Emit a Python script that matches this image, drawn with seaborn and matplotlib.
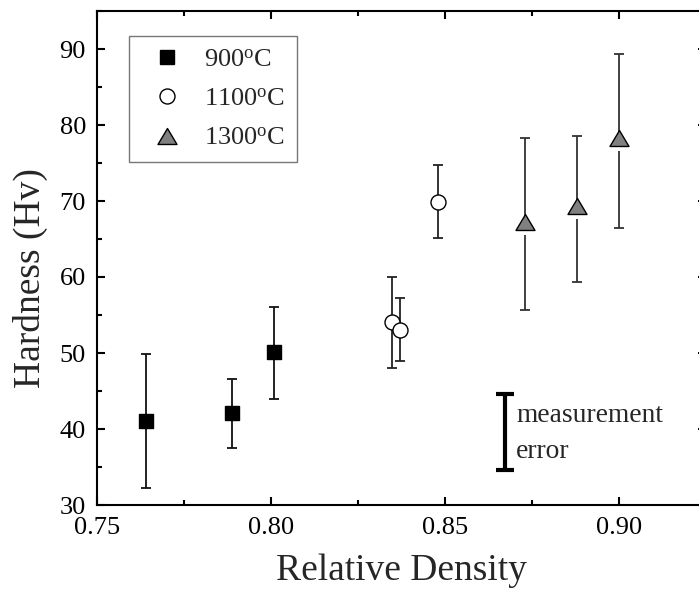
import numpy as np
import pandas as pd
import matplotlib
matplotlib.use("Agg")
import matplotlib.pyplot as plt
from matplotlib.path import Path
from matplotlib.lines import Line2D
from matplotlib.ticker import MultipleLocator
import seaborn as sns

# ---- data ----
groups = ["900", "1100", "1300"]
density_900 = [0.7641, 0.7889, 0.8010]
hard_900 = [41.1, 42.1, 50.1]
low_900 = [32.3, 37.5, 44.0]
high_900 = [49.9, 46.6, 56.1]

density_1100 = [0.8349, 0.8370, 0.8479]
hard_1100 = [54.1, 53.0, 69.9]
low_1100 = [48.0, 48.9, 65.1]
high_1100 = [60.0, 57.2, 74.8]

density_1300 = [0.8729, 0.8878, 0.8999]
hard_1300 = [67.2, 69.3, 78.3]
low_1300 = [55.6, 59.3, 66.4]
high_1300 = [78.3, 78.6, 89.4]

meas_x = [0.8672]
meas_y = [39.65]
meas_err = [5.0]

xticks = [0.75, 0.80, 0.85, 0.90]
yticks = [30, 40, 50, 60, 70, 80, 90]

rows = []
for g, xs, ys, lo, hi in [("900", density_900, hard_900, low_900, high_900),
                          ("1100", density_1100, hard_1100, low_1100, high_1100),
                          ("1300", density_1300, hard_1300, low_1300, high_1300)]:
    for x, y, l, h in zip(xs, ys, lo, hi):
        rows.append(dict(group=g, density=x, hardness=y, low=l, high=h))
df = pd.DataFrame(rows)

# ---- style ----
sns.set_theme(style="ticks")
plt.rcParams["font.family"] = ["Liberation Serif", "DejaVu Serif"]
plt.rcParams["mathtext.fontset"] = "custom"
plt.rcParams["mathtext.rm"] = "Liberation Serif"
plt.rcParams["mathtext.it"] = "Liberation Serif:italic"

fig = plt.figure(figsize=(6.99, 5.94), dpi=100)
ax = fig.add_axes([97 / 699, 1 - 505 / 594, 609 / 699, 494 / 594])

tri = Path([(0, 0.84), (-1, -0.84), (1, -0.84), (0, 0.84)],
           [Path.MOVETO, Path.LINETO, Path.LINETO, Path.CLOSEPOLY])
mask = Path([(-0.35, -1), (0.35, -1), (0.35, 0), (-0.35, 0), (-0.35, -1)],
            [Path.MOVETO, Path.LINETO, Path.LINETO, Path.LINETO, Path.CLOSEPOLY])

pt = 0.72  # points per pixel at 100 dpi
styles = {
    "900": dict(marker="s", s=(14 * pt) ** 2, color="black", edgecolor="black", ecolor="#111111"),
    "1100": dict(marker="o", s=(15 * pt) ** 2, color="white", edgecolor="black", ecolor="#222222"),
    "1300": dict(marker=tri, s=(19 * pt) ** 2, color="#808080", edgecolor="black", ecolor="#333333"),
}

for g in groups:
    sub = df[df.group == g]
    st = styles[g]
    yerr = np.vstack([sub.hardness - sub.low, sub.high - sub.hardness])
    ax.errorbar(sub.density, sub.hardness, yerr=yerr, fmt="none",
                ecolor=st["ecolor"], elinewidth=1.3, capsize=5 * pt,
                capthick=1.3, zorder=2)
    if g == "1300":
        sns.scatterplot(data=sub, x="density", y="hardness", marker=mask,
                        s=(26 * pt) ** 2, color="white", edgecolor="none",
                        linewidth=0, ax=ax, zorder=2.5, legend=False)
    sns.scatterplot(data=sub, x="density", y="hardness", marker=st["marker"],
                    s=st["s"], color=st["color"], edgecolor=st["edgecolor"],
                    linewidth=1.0, ax=ax, zorder=3, legend=False)

# measurement error bar
ax.errorbar(meas_x, meas_y, yerr=meas_err, fmt="none", ecolor="black",
            elinewidth=3, capsize=9 * pt, capthick=3, zorder=2)
ax.text(0.8704, 41.8, "measurement", fontsize=19.8, ha="left", va="center")
ax.text(0.8704, 37.1, "error", fontsize=19.8, ha="left", va="center")

ax.set_xlim(0.75, 0.925)
ax.set_ylim(30, 95)
ax.set_xticks(xticks)
ax.set_xticklabels([f"{v:.2f}" for v in xticks])
ax.set_yticks(yticks)
ax.xaxis.set_minor_locator(MultipleLocator(0.025))
ax.yaxis.set_minor_locator(MultipleLocator(5))
ax.tick_params(which="both", direction="in", top=True, right=True, width=1.5,
               colors="black", labelsize=19)
ax.tick_params(which="major", length=6)
ax.tick_params(which="minor", length=3.6)
ax.tick_params(axis="x", pad=9)
ax.tick_params(axis="y", pad=8)
for sp in ax.spines.values():
    sp.set_linewidth(1.5)
    sp.set_color("black")

ax.set_xlabel("Relative Density", fontsize=27, labelpad=10)
ax.set_ylabel("Hardness (Hv)", fontsize=27, labelpad=8)
ax.yaxis.label.set_y(0.4585)

handles = [
    Line2D([], [], linestyle="none", marker="s", markersize=14 * pt,
           markerfacecolor="black", markeredgecolor="black"),
    Line2D([], [], linestyle="none", marker="o", markersize=15 * pt,
           markerfacecolor="white", markeredgecolor="black"),
    Line2D([], [], linestyle="none", marker=tri, markersize=19 * pt,
           markerfacecolor="#808080", markeredgecolor="black"),
]
labels = [r"900$^{\mathrm{o}}$C", r"1100$^{\mathrm{o}}$C", r"1300$^{\mathrm{o}}$C"]
leg = ax.legend(handles, labels, loc="upper left", bbox_to_anchor=(32 / 609, 1 - 25 / 494),
                fontsize=19, frameon=True, fancybox=False, edgecolor="#555555",
                handletextpad=0.4, labelspacing=0.6, borderpad=0.45, handlelength=2.0,
                borderaxespad=0)
leg.get_frame().set_linewidth(1.0)

fig.savefig("out.png", dpi=100)
